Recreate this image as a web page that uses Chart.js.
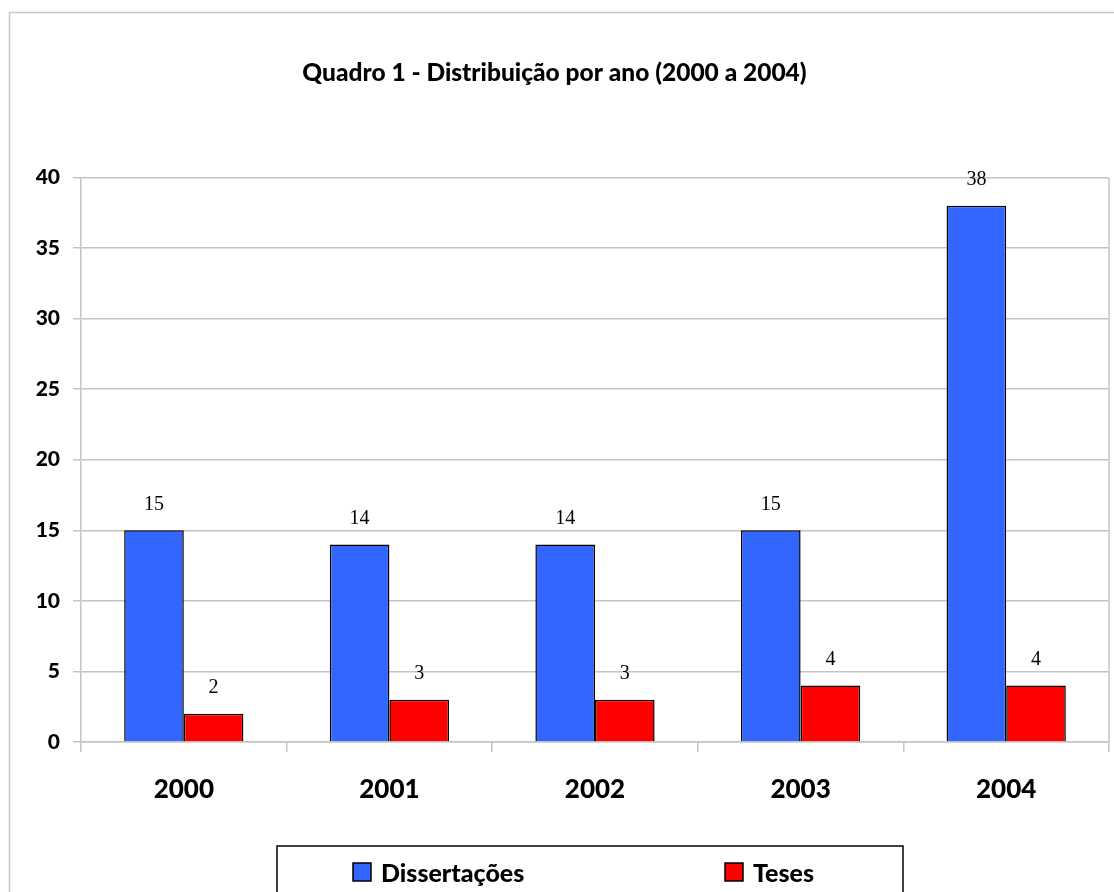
<!DOCTYPE html>
<html>
<head>
<meta charset="utf-8">
<script src="https://cdn.jsdelivr.net/npm/chart.js@4.4.1/dist/chart.umd.min.js"></script>
<style>
  html, body { margin: 0; padding: 0; background: #fff; }
  #wrap { width: 1114px; height: 892px; position: relative; }
</style>
</head>
<body>
<div id="wrap"><canvas id="c" width="1114" height="892"></canvas></div>
<script>
// Chart data
const anos = ['2000', '2001', '2002', '2003', '2004'];
const dissertacoes = [15, 14, 14, 15, 38];
const teses = [2, 3, 3, 4, 4];
const tituloGrafico = 'Quadro 1 - Distribuição por ano (2000 a 2004)';
const nomesSeries = ['Dissertações', 'Teses'];

const GRID = '#c4c4c4';
const SANS = 'Lato, "Open Sans", sans-serif';
const HEAVY = '900';

// Frame around the whole figure and right edge of the plot area
const framePlugin = {
  id: 'frame',
  beforeDraw(chart) {
    const ctx = chart.ctx;
    ctx.save();
    ctx.fillStyle = '#fff';
    ctx.fillRect(0, 0, chart.width, chart.height);
    ctx.strokeStyle = '#c8c8c8';
    ctx.lineWidth = 1.5;
    ctx.strokeRect(9.5, 12.5, chart.width + 40, chart.height + 40);
    ctx.restore();
  },
  afterDraw(chart) {
    const a = chart.chartArea, ctx = chart.ctx;
    ctx.save();
    ctx.strokeStyle = GRID;
    ctx.lineWidth = 1.5;
    ctx.beginPath();
    ctx.moveTo(a.right, a.top);
    ctx.lineTo(a.right, a.bottom);
    ctx.stroke();
    ctx.restore();
  }
};

// Value labels above each bar
const valueLabels = {
  id: 'valueLabels',
  afterDatasetsDraw(chart) {
    const ctx = chart.ctx;
    ctx.save();
    ctx.font = '20px "Liberation Serif", "Times New Roman", serif';
    ctx.fillStyle = '#000';
    ctx.textAlign = 'center';
    ctx.textBaseline = 'middle';
    chart.data.datasets.forEach((ds, i) => {
      chart.getDatasetMeta(i).data.forEach((bar, j) => {
        ctx.fillText(String(ds.data[j]), bar.x, bar.y - 26);
      });
    });
    ctx.restore();
  }
};

// Boxed legend below the axis
const boxLegend = {
  id: 'boxLegend',
  afterDraw(chart, args, opts) {
    const ctx = chart.ctx;
    ctx.save();
    ctx.strokeStyle = '#000';
    ctx.lineWidth = 1.5;
    ctx.strokeRect(opts.left, opts.top, opts.width, 200);
    ctx.font = HEAVY + ' 25px ' + SANS;
    ctx.textBaseline = 'middle';
    ctx.textAlign = 'left';
    chart.data.datasets.forEach((ds, i) => {
      const x = opts.left + opts.offsets[i];
      const s = opts.box;
      ctx.fillStyle = ds.backgroundColor;
      ctx.fillRect(x, opts.rowY - s / 2, s, s);
      ctx.strokeStyle = '#000';
      ctx.lineWidth = 1.5;
      ctx.strokeRect(x, opts.rowY - s / 2, s, s);
      ctx.fillStyle = '#000';
      ctx.fillText(ds.label, x + s + 10, opts.rowY + 2);
    });
    ctx.restore();
  }
};

new Chart(document.getElementById('c'), {
  type: 'bar',
  data: {
    labels: anos,
    datasets: [
      { label: nomesSeries[0], data: dissertacoes, backgroundColor: '#3366FF', borderColor: '#000', borderWidth: 1.5 },
      { label: nomesSeries[1], data: teses, backgroundColor: '#FF0000', borderColor: '#000', borderWidth: 1.5 }
    ]
  },
  plugins: [framePlugin, valueLabels, boxLegend],
  options: {
    responsive: false,
    animation: false,
    layout: { padding: { top: 0, right: 5, bottom: 90, left: 0 } },
    datasets: { bar: { categoryPercentage: 0.58, barPercentage: 1.0 } },
    plugins: {
      legend: { display: false },
      tooltip: { enabled: false },
      title: {
        display: true,
        text: tituloGrafico,
        color: '#000',
        font: { family: SANS, size: 24.5, weight: HEAVY },
        padding: { top: 58, bottom: 90 }
      },
      boxLegend: { left: 277, top: 846, width: 626, rowY: 872, box: 18, offsets: [76, 448] }
    },
    scales: {
      x: {
        offset: true,
        grid: { display: true, drawOnChartArea: false, drawTicks: true, tickLength: 10, color: GRID, lineWidth: 1.5, offset: true },
        border: { display: true, color: GRID, width: 1.5 },
        ticks: { color: '#000', font: { family: SANS, size: 26, weight: HEAVY }, padding: 22 },
        afterFit(scale) { scale.height = 60; }
      },
      y: {
        min: 0, max: 40,
        ticks: { stepSize: 5, color: '#000', font: { family: SANS, size: 21, weight: HEAVY }, padding: 13 },
        grid: { color: GRID, lineWidth: 1.5, tickLength: 8 },
        border: { display: true, color: GRID, width: 1.5 },
        afterFit(scale) { scale.width = 81; }
      }
    }
  }
});
</script>
</body>
</html>
